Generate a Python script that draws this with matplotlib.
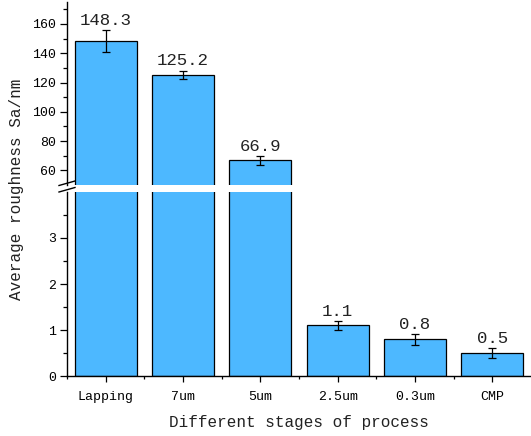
import matplotlib
matplotlib.use('Agg')
import matplotlib.pyplot as plt
from matplotlib.lines import Line2D
from matplotlib.ticker import FixedLocator

# data
stages = ["Lapping", "7um", "5um", "2.5um", "0.3um", "CMP"]
sa_values = [148.3, 125.2, 66.9, 1.1, 0.8, 0.5]
sa_errors = [7.5, 3.0, 3.0, 0.09, 0.12, 0.11]
value_labels = ["148.3", "125.2", "66.9", "1.1", "0.8", "0.5"]

bar_color = '#4DB8FF'
font = 'Liberation Mono'
plt.rcParams['font.family'] = [font, 'DejaVu Sans']

W, H = 531, 436
fig = plt.figure(figsize=(W / 100, H / 100), dpi=100)

# axes placement in pixels (left, top, right, bottom)
def px_axes(l, t, r, b):
    return fig.add_axes([l / W, 1 - b / H, (r - l) / W, (b - t) / H])

ax_hi = px_axes(67, 2, 531, 185)
ax_lo = px_axes(67, 192, 531, 376)

x = list(range(len(stages)))
for ax in (ax_hi, ax_lo):
    ax.bar(x, sa_values, width=0.8, color=bar_color, edgecolor='black', linewidth=0.9, zorder=2)
    ax.errorbar(x, sa_values, yerr=sa_errors, fmt='none', ecolor='black',
                elinewidth=0.9, capsize=3, capthick=0.9, zorder=3)
    ax.set_xlim(-0.5, 5.5)
    ax.spines['top'].set_visible(False)
    ax.spines['right'].set_visible(False)
    ax.spines['left'].set_linewidth(1.0)
    ax.spines['bottom'].set_linewidth(1.0)
    ax.patch.set_alpha(0)
    ax.tick_params(axis='y', which='major', direction='out', length=5, width=0.9,
                   labelsize=9.5, pad=3)
    ax.tick_params(axis='y', which='minor', direction='out', length=3, width=0.9)

# upper part
ax_hi.set_ylim(50, 175)
ax_hi.yaxis.set_major_locator(FixedLocator([60, 80, 100, 120, 140, 160]))
ax_hi.yaxis.set_minor_locator(FixedLocator([70, 90, 110, 130, 150, 170]))
ax_hi.spines['bottom'].set_visible(False)
ax_hi.set_xticks([])

# lower part
ax_lo.set_ylim(0, 4)
ax_lo.yaxis.set_major_locator(FixedLocator([0, 1, 2, 3]))
ax_lo.yaxis.set_minor_locator(FixedLocator([0.5, 1.5, 2.5, 3.5]))
ax_lo.set_xticks(x)
ax_lo.set_xticklabels(stages)
ax_lo.xaxis.set_minor_locator(FixedLocator([-0.5, 0.5, 1.5, 2.5, 3.5, 4.5]))
ax_lo.tick_params(axis='x', which='major', direction='out', length=4.5, width=0.9,
                  labelsize=9.5, pad=6)
ax_lo.tick_params(axis='x', which='minor', direction='out', length=2.2, width=0.9)

# value labels
for i, (v, e, lab) in enumerate(zip(sa_values, sa_errors, value_labels)):
    ax = ax_hi if v > 4 else ax_lo
    ax.annotate(lab, xy=(i, v + e), xytext=(0, 1.5), textcoords='offset points',
                ha='center', va='bottom', fontsize=12.5, color='#222222')

# break marks on the y axis
for (x0, y0, x1, y1) in [(59, 185.5, 75, 181), (59, 192, 75, 187.5)]:
    fig.add_artist(Line2D([x0 / W, x1 / W], [1 - y0 / H, 1 - y1 / H],
                          color='black', linewidth=1.0, transform=fig.transFigure))

fig.text(17 / W, 1 - 189 / H, "Average roughness Sa/nm", rotation=90,
         ha='center', va='center', fontsize=11.5, color='#222222')
fig.text(299 / W, 1 - 422 / H, "Different stages of process",
         ha='center', va='center', fontsize=11.5, color='#222222')

plt.savefig('out.png', dpi=100)
plt.close()
